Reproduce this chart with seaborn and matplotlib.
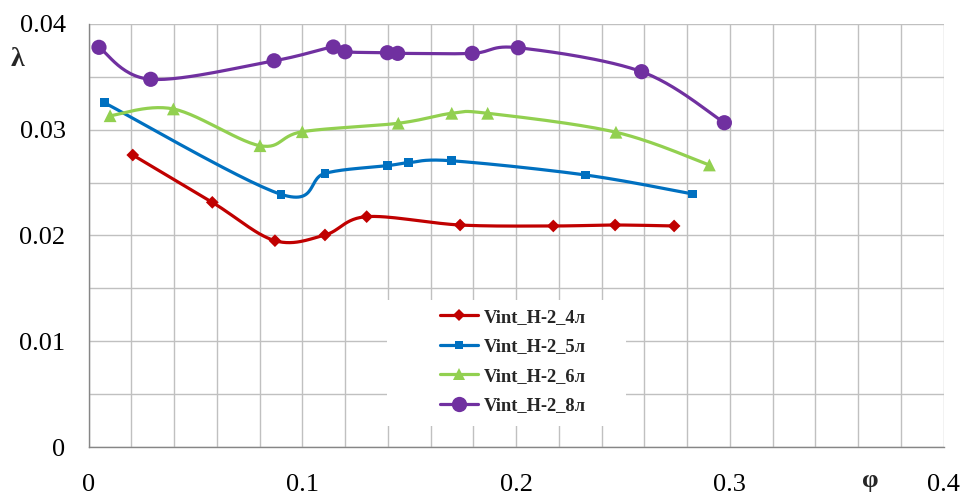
import numpy as np
import pandas as pd
import matplotlib
matplotlib.use("Agg")
import matplotlib.pyplot as plt
from matplotlib.lines import Line2D
from matplotlib.patches import Rectangle
from matplotlib.ticker import MultipleLocator, FixedLocator
import seaborn as sns

# ---- data -------------------------------------------------------------
phi_4 = [0.0207, 0.0579, 0.0872, 0.1106, 0.1301, 0.1738, 0.2174, 0.2463, 0.2739]
lam_4 = [0.0276, 0.02313, 0.01951, 0.02005, 0.02178, 0.02099, 0.0209, 0.02099, 0.0209]

phi_5 = [0.0074, 0.0900, 0.1106, 0.1398, 0.1496, 0.1696, 0.2326, 0.2826]
lam_5 = [0.03254, 0.02389, 0.02587, 0.02659, 0.02687, 0.02706, 0.02571, 0.02392]

phi_6 = [0.0101, 0.0397, 0.0802, 0.1000, 0.1449, 0.1699, 0.1867, 0.2467, 0.2904]
lam_6 = [0.03131, 0.03195, 0.02848, 0.0298, 0.0306, 0.03154, 0.03154, 0.02975, 0.02666]

phi_8 = [0.0049, 0.0291, 0.0868, 0.1145, 0.1200, 0.1398, 0.1446, 0.1795, 0.2010, 0.2587, 0.2974]
lam_8 = [0.03777, 0.03475, 0.0365, 0.0378, 0.03735, 0.03726, 0.0372, 0.0372, 0.03773, 0.03547, 0.03065]

series_names = ["Vint_H-2_4л", "Vint_H-2_5л", "Vint_H-2_6л", "Vint_H-2_8л"]
x_ticks = [0, 0.1, 0.2, 0.3, 0.4]
y_ticks = [0, 0.01, 0.02, 0.03, 0.04]
x_tick_labels = ["0", "0.1", "0.2", "0.3", "0.4"]
y_tick_labels = ["0", "0.01", "0.02", "0.03", "0.04"]

colors = ["#C00000", "#0070C0", "#92D050", "#7030A0"]
markers = ["D", "s", "^", "o"]
marker_area = [42, 40, 85, 120]


def smooth(xs, ys, n=30):
    """Cubic Bezier smoothing through every point (Catmull-Rom style)."""
    p = np.column_stack([xs, ys]).astype(float)
    out = [p[0]]
    t = np.linspace(0, 1, n)[1:, None]
    for i in range(len(p) - 1):
        p0 = p[i - 1] if i > 0 else p[i]
        p1, p2 = p[i], p[i + 1]
        p3 = p[i + 2] if i + 2 < len(p) else p[i + 1]
        c1 = p1 + (p2 - p0) / 6.0
        c2 = p2 - (p3 - p1) / 6.0
        seg = ((1 - t) ** 3) * p1 + 3 * ((1 - t) ** 2) * t * c1 + 3 * (1 - t) * t ** 2 * c2 + t ** 3 * p2
        out.extend(seg)
    out = np.array(out)
    return out[:, 0], out[:, 1]


frames = []
for name, xs, ys in zip(series_names, [phi_4, phi_5, phi_6, phi_8], [lam_4, lam_5, lam_6, lam_8]):
    frames.append(pd.DataFrame({"phi": xs, "lam": ys, "series": name}))
points = pd.concat(frames, ignore_index=True)

# ---- figure -----------------------------------------------------------
sns.set_theme(style="white")
plt.rcParams["font.family"] = ["Liberation Serif", "DejaVu Serif"]

fig = plt.figure(figsize=(9.62, 4.95), dpi=100)
ax = fig.add_axes([0.092, 0.0964, 0.889, 0.8557])

for name, col in zip(series_names, colors):
    d = points[points["series"] == name]
    sx, sy = smooth(d["phi"].values, d["lam"].values)
    sns.lineplot(x=sx, y=sy, sort=False, color=col, linewidth=2.3, ax=ax,
                 estimator=None, zorder=3)

sns.scatterplot(data=points, x="phi", y="lam", hue="series", style="series",
                hue_order=series_names, style_order=series_names,
                palette=dict(zip(series_names, colors)),
                markers=dict(zip(series_names, markers)),
                size="series", sizes=dict(zip(series_names, marker_area)),
                linewidth=0, legend=False, ax=ax, zorder=4)

ax.set_xlim(0, 0.4)
ax.set_ylim(0, 0.04)
ax.xaxis.set_major_locator(FixedLocator(x_ticks))
ax.yaxis.set_major_locator(FixedLocator(y_ticks))
ax.set_xticklabels(x_tick_labels)
ax.set_yticklabels(y_tick_labels)
ax.xaxis.set_minor_locator(MultipleLocator(0.02))
ax.yaxis.set_minor_locator(MultipleLocator(0.005))
ax.grid(which="both", color="#C0C0C0", linewidth=1.0)
ax.set_axisbelow(True)
ax.set_xlabel("")
ax.set_ylabel("")

for side in ["top", "right"]:
    ax.spines[side].set_visible(False)
for side in ["left", "bottom"]:
    ax.spines[side].set_color("#868686")
    ax.spines[side].set_linewidth(1.0)

ax.tick_params(axis="both", which="major", direction="out", length=6, width=1,
               color="#868686", labelsize=19, labelcolor="black")
ax.tick_params(axis="x", which="major", pad=13.5)
ax.tick_params(axis="y", which="major", pad=10.5)
ax.tick_params(which="minor", length=0)

fig.text(17.5 / 962, 1 - 60 / 495, "λ", fontsize=20, fontweight="bold",
         ha="center", va="center")
fig.text(870 / 962, 1 - 481 / 495, "φ", fontsize=19, fontweight="bold",
         ha="center", va="center")

# white legend area
ax.add_patch(Rectangle((0.349, 0.050), 0.279, 0.298, transform=ax.transAxes,
                       facecolor="white", edgecolor="none", zorder=1))

handles = [Line2D([0], [0], color=c, marker=m, linewidth=2.3,
                  markersize=ms, markeredgewidth=0)
           for c, m, ms in zip(colors, markers, [6.5, 6.3, 9, 11])]
leg = ax.legend(handles, series_names, loc="center left",
                bbox_to_anchor=(0.411, 0.2026), frameon=False,
                prop={"family": ["Liberation Serif"], "weight": "bold", "size": 13.3},
                handlelength=2.05, handletextpad=0.3, labelspacing=0.68,
                borderpad=0, borderaxespad=0)
leg.set_zorder(5)

fig.savefig("out.png", dpi=100)
